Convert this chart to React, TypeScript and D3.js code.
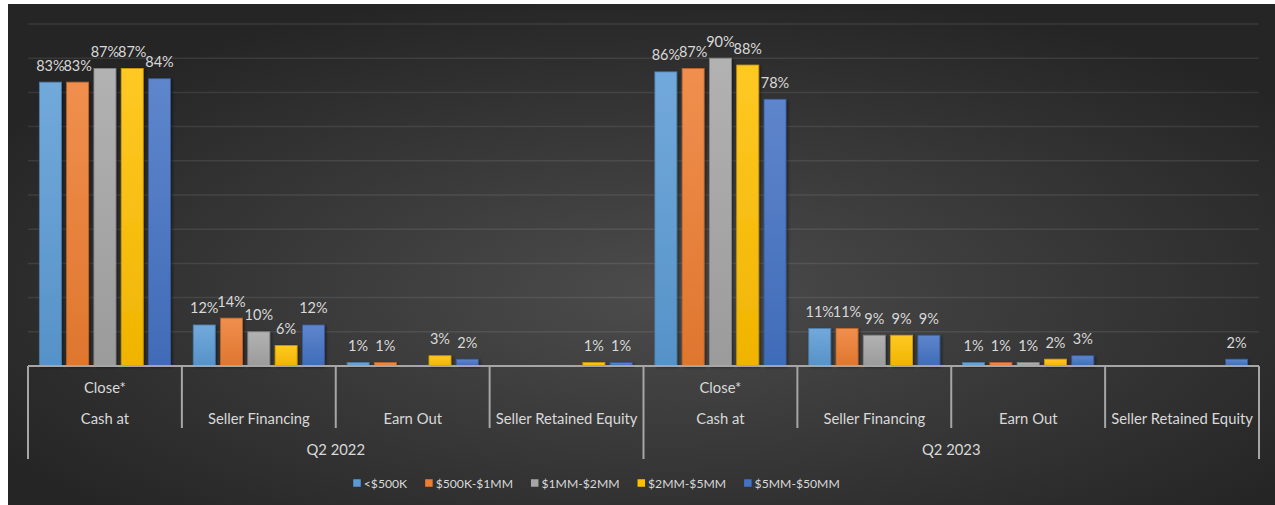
import React, { useEffect, useRef } from "react";
import * as d3 from "d3";

// Deal-structure shares by business size, grouped by quarter.
const quarters = ["Q2 2022", "Q2 2023"];
const categoryLines = [
  ["Close*", "Cash at"],
  ["Seller Financing"],
  ["Earn Out"],
  ["Seller Retained Equity"],
];
const seriesNames = ["<$500K", "$500K-$1MM", "$1MM-$2MM", "$2MM-$5MM", "$5MM-$50MM"];
const seriesColors = ["#5B9BD5", "#ED7D31", "#A5A5A5", "#FFC000", "#4472C4"];

// Values in percent, in order: Q2 2022 (4 categories), then Q2 2023 (4 categories).
const under500K = [83, 12, 1, null, 86, 11, 1, null];
const from500Kto1MM = [83, 14, 1, null, 87, 11, 1, null];
const from1MMto2MM = [87, 10, null, null, 90, 9, 1, null];
const from2MMto5MM = [87, 6, 3, 1, 88, 9, 2, null];
const from5MMto50MM = [84, 12, 2, 1, 78, 9, 3, 2];
const seriesValues = [under500K, from500Kto1MM, from1MMto2MM, from2MMto5MM, from5MMto50MM];

const yTicks = [0, 10, 20, 30, 40, 50, 60, 70, 80, 90, 100];

const W = 1275;
const H = 505;

export default function App() {
  const ref = useRef<SVGSVGElement | null>(null);

  useEffect(() => {
    const svg = d3.select(ref.current);
    svg.selectAll("*").remove();
    const font = "Lato, 'Open Sans', sans-serif";
    const textColor = "#d9d9d9";

    const defs = svg.append("defs");
    const bg = defs
      .append("radialGradient")
      .attr("id", "bgGrad")
      .attr("cx", "52%")
      .attr("cy", "58%")
      .attr("r", "62%");
    bg.append("stop").attr("offset", "0%").attr("stop-color", "#4c4c4c");
    bg.append("stop").attr("offset", "100%").attr("stop-color", "#252525");

    seriesColors.forEach((c, i) => {
      const g = defs
        .append("linearGradient")
        .attr("id", `barGrad${i}`)
        .attr("x1", 0)
        .attr("y1", 0)
        .attr("x2", 0)
        .attr("y2", 1);
      g.append("stop").attr("offset", "0%").attr("stop-color", d3.interpolateRgb(c, "#ffffff")(0.14));
      g.append("stop").attr("offset", "100%").attr("stop-color", d3.interpolateRgb(c, "#000000")(0.06));
    });

    const shadow = defs
      .append("filter")
      .attr("id", "barShadow")
      .attr("x", "-20%")
      .attr("y", "-20%")
      .attr("width", "150%")
      .attr("height", "150%");
    shadow
      .append("feDropShadow")
      .attr("dx", 1.5)
      .attr("dy", 1)
      .attr("stdDeviation", 1.5)
      .attr("flood-color", "#000")
      .attr("flood-opacity", 0.45);

    // Page and chart area
    svg.append("rect").attr("width", W).attr("height", H).attr("fill", "#ffffff");
    svg
      .append("rect")
      .attr("x", 8)
      .attr("y", 4)
      .attr("width", W - 8)
      .attr("height", H - 4)
      .attr("fill", "url(#bgGrad)");

    const plotLeft = 28;
    const plotRight = 1259;
    const baseY = 366;
    const topY = 24;

    const nCat = categoryLines.length;
    const slots = d3.range(quarters.length * nCat);

    const y = d3.scaleLinear().domain([0, 100]).range([baseY, topY]);
    const x0 = d3.scaleBand<number>().domain(slots).range([plotLeft, plotRight]).padding(0);
    const gapEach = x0.bandwidth() * 0.0738;
    const x1 = d3
      .scaleBand<number>()
      .domain(d3.range(seriesNames.length))
      .range([gapEach, x0.bandwidth() - gapEach])
      .paddingInner(0.194)
      .paddingOuter(0);

    // Gridlines
    svg
      .append("g")
      .selectAll("line")
      .data(yTicks.filter((t) => t > 0))
      .join("line")
      .attr("x1", plotLeft)
      .attr("x2", plotRight)
      .attr("y1", (d) => y(d))
      .attr("y2", (d) => y(d))
      .attr("stroke", "#ffffff")
      .attr("stroke-opacity", 0.09)
      .attr("stroke-width", 1.5);

    // Bars
    const barsG = svg.append("g");
    seriesValues.forEach((vals, si) => {
      const items = vals
        .map((v, slot) => ({ v, slot }))
        .filter((d) => d.v !== null) as { v: number; slot: number }[];
      barsG
        .append("g")
        .selectAll("rect")
        .data(items)
        .join("rect")
        .attr("x", (d) => (x0(d.slot) as number) + (x1(si) as number))
        .attr("y", (d) => y(d.v))
        .attr("width", x1.bandwidth())
        .attr("height", (d) => y(0) - y(d.v))
        .attr("fill", `url(#barGrad${si})`)
        .attr("stroke", d3.interpolateRgb(seriesColors[si], "#000000")(0.2))
        .attr("stroke-width", 0.8)
        .attr("filter", "url(#barShadow)");
    });

    // Value labels
    const labelsG = svg.append("g");
    seriesValues.forEach((vals, si) => {
      const items = vals
        .map((v, slot) => ({ v, slot }))
        .filter((d) => d.v !== null) as { v: number; slot: number }[];
      labelsG
        .append("g")
        .selectAll("text")
        .data(items)
        .join("text")
        .attr("x", (d) => (x0(d.slot) as number) + (x1(si) as number) + x1.bandwidth() / 2)
        .attr("y", (d) => y(d.v) - 11.5)
        .attr("text-anchor", "middle")
        .attr("font-family", font)
        .attr("font-size", 14.5)
        .attr("fill", textColor)
        .text((d) => `${d.v}%`);
    });

    // Multi-level category axis
    const axisColor = "#a6a6a6";
    const axisG = svg.append("g").attr("stroke", axisColor).attr("stroke-width", 2);
    axisG
      .append("line")
      .attr("x1", plotLeft)
      .attr("x2", plotRight)
      .attr("y1", baseY)
      .attr("y2", baseY);
    const boundaries = d3.range(slots.length + 1).map((i) =>
      i < slots.length ? (x0(i) as number) : plotRight
    );
    axisG
      .selectAll("line.tick")
      .data(boundaries)
      .join("line")
      .attr("class", "tick")
      .attr("x1", (d) => d)
      .attr("x2", (d) => d)
      .attr("y1", baseY)
      .attr("y2", (_d, i) => (i % nCat === 0 ? 459 : 428));

    const catText = svg
      .append("g")
      .attr("font-family", font)
      .attr("font-size", 14.8)
      .attr("fill", textColor)
      .attr("text-anchor", "middle");
    slots.forEach((slot) => {
      const lines = categoryLines[slot % nCat];
      const cx = (x0(slot) as number) + x0.bandwidth() / 2;
      lines.forEach((ln, li) => {
        catText
          .append("text")
          .attr("x", cx)
          .attr("y", lines.length === 1 ? 418 : 387 + li * 31)
          .attr("dominant-baseline", "central")
          .text(ln);
      });
    });
    quarters.forEach((q, qi) => {
      const start = x0(qi * nCat) as number;
      const end = qi * nCat + nCat < slots.length ? (x0(qi * nCat + nCat) as number) : plotRight;
      catText
        .append("text")
        .attr("x", (start + end) / 2)
        .attr("y", 449)
        .attr("dominant-baseline", "central")
        .text(q);
    });

    // Legend
    const legendG = svg
      .append("g")
      .attr("font-family", font)
      .attr("font-size", 12.2)
      .attr("fill", textColor);
    const sq = 7.5;
    const textGap = 3;
    const itemGap = 18;
    const items = seriesNames.map((name, i) => {
      const g = legendG.append("g");
      g.append("rect")
        .attr("width", sq)
        .attr("height", sq)
        .attr("y", -sq / 2)
        .attr("fill", seriesColors[i]);
      const t = g
        .append("text")
        .attr("x", sq + textGap)
        .attr("dominant-baseline", "central")
        .text(name);
      const w = (t.node() as SVGTextElement).getComputedTextLength();
      return { g, w: sq + textGap + w };
    });
    const total = d3.sum(items, (d) => d.w) + itemGap * (items.length - 1);
    let cursor = 596.5 - total / 2;
    items.forEach((it) => {
      it.g.attr("transform", `translate(${cursor},483)`);
      cursor += it.w + itemGap;
    });
  }, []);

  return (
    <svg
      ref={ref}
      width={W}
      height={H}
      style={{ position: "absolute", left: 0, top: 0, display: "block" }}
    />
  );
}
